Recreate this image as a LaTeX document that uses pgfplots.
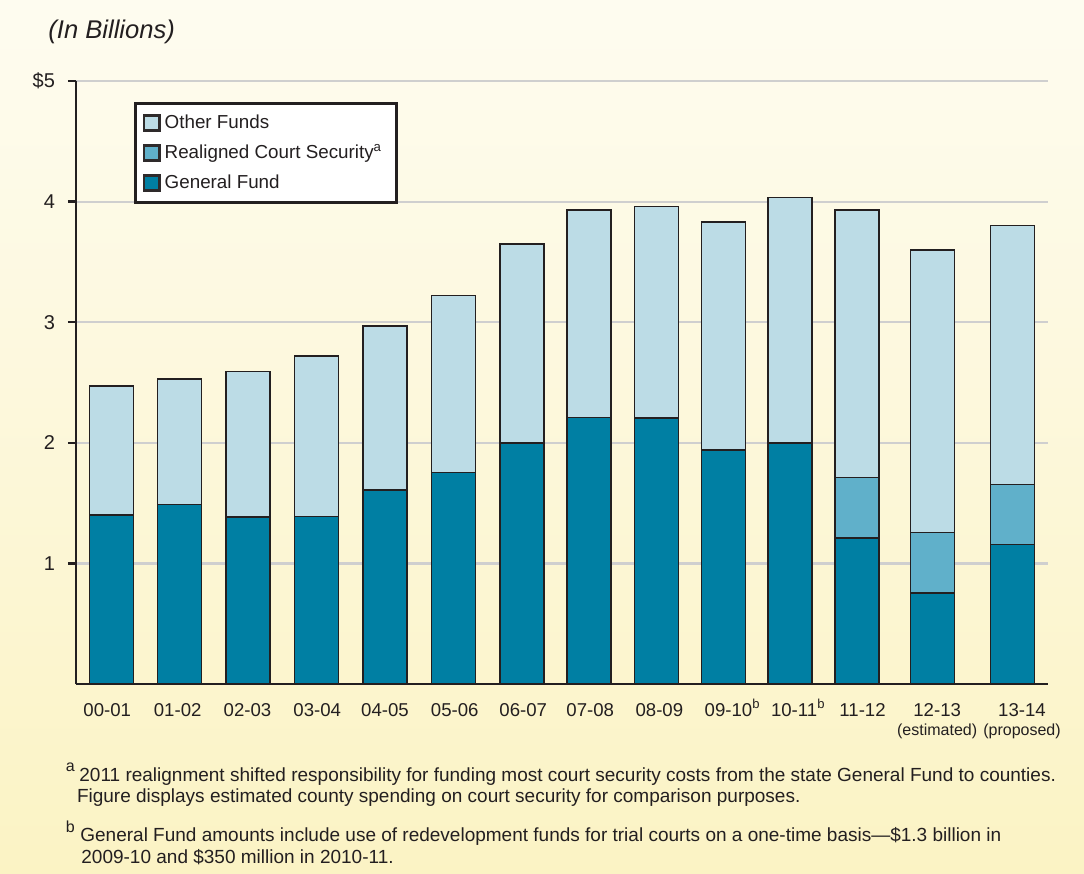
\documentclass[border=0pt]{standalone}
\usepackage{fontspec}
\setmainfont{Liberation Sans}
\usepackage{pgfplots}
\pgfplotsset{compat=1.18}
\definecolor{gf}{HTML}{007FA3}
\definecolor{rcs}{HTML}{60B0CA}
\definecolor{oth}{HTML}{BCDCE6}
\definecolor{bgtop}{HTML}{FEFCF0}
\definecolor{bgbot}{HTML}{FBF3C4}
\definecolor{gridc}{HTML}{CFCFCF}
\definecolor{txt}{HTML}{231F20}
\begin{document}
\begin{tikzpicture}[color=txt]
\shade[top color=bgtop, bottom color=bgbot] (0pt,0pt) rectangle (542pt,-437pt);
\node[anchor=base west, inner sep=0pt, font=\fontsize{12.8pt}{14pt}\itshape] at (24pt,-19pt) {(In Billions)};
\begin{axis}[
  at={(38pt,-342pt)}, anchor=south west,
  scale only axis, width=486pt, height=301.5pt,
  xmin=-0.516, xmax=13.69, ymin=0, ymax=5,
  ybar stacked, bar width=0.643,
  axis x line*=bottom, axis y line*=left,
  axis line style={-, line width=1.3pt, txt},
  ytick={1,2,3,4,5}, yticklabels={1,2,3,4,\$5},
  ymajorgrids, grid style={gridc, line width=1.1pt},
  tick align=outside, major tick length=4pt,
  ytick style={line width=1.2pt, txt},
  xtick style={draw=none},
  yticklabel style={font=\fontsize{10pt}{12pt}\selectfont, xshift=-3pt},
  xtick={-0.06,0.97,1.99,3.01,4.0,5.02,6.02,7.0,8.01,9.02,9.98,10.98,12.07,13.31},
  xticklabels={00-01,01-02,02-03,03-04,04-05,05-06,06-07,07-08,08-09,09-10\smash{\rlap{\textsuperscript{b}}},10-11\smash{\rlap{\textsuperscript{b}}},11-12,{12-13\\[-0.5pt]{\fontsize{8pt}{9pt}\selectfont (estimated)}},{13-14\\[-0.5pt]{\fontsize{8pt}{9pt}\selectfont (proposed)}}},
  xticklabel style={font=\fontsize{9.3pt}{10pt}\selectfont, align=center, anchor=north, yshift=-2pt},
  legend style={at={(0.0597,0.965)}, anchor=north west, draw=txt, line width=1.5pt, fill=white,
    font=\fontsize{9.4pt}{11pt}\selectfont, cells={anchor=west}, row sep=2.4pt, inner xsep=3.5pt, inner ysep=3.6pt},
  legend image code/.code={\draw[#1, draw=txt!95, line width=1.3pt] (0pt,-3.8pt) rectangle (7.8pt,3.8pt);},
  reverse legend,
]
\addplot[fill=gf, draw=txt, line width=0.7pt] coordinates {
(0,1.40) (1,1.49) (2,1.385) (3,1.39) (4,1.61) (5,1.755) (6,2.00) (6.98,2.21) (7.97,2.205) (8.95,1.94) (9.92,2.00) (10.9,1.21) (12.0,0.755) (13.17,1.155)};
\addplot[fill=rcs, draw=txt, line width=0.7pt] coordinates {
(0,0) (1,0) (2,0) (3,0) (4,0) (5,0) (6,0) (6.98,0) (7.97,0) (8.95,0) (9.92,0) (10.9,0.50) (12.0,0.50) (13.17,0.50)};
\addplot[fill=oth, draw=txt, line width=0.7pt] coordinates {
(0,1.07) (1,1.04) (2,1.205) (3,1.33) (4,1.36) (5,1.465) (6,1.65) (6.98,1.72) (7.97,1.755) (8.95,1.89) (9.92,2.035) (10.9,2.22) (12.0,2.345) (13.17,2.145)};
\legend{General Fund, Realigned Court Security\textsuperscript{a}\hspace*{1.5pt}, Other Funds}
\end{axis}
\begin{scope}[every node/.style={anchor=base west, inner sep=0pt, font=\fontsize{9.5pt}{11pt}\selectfont}]
\node[font=\fontsize{8pt}{9pt}\selectfont] at (32.8pt,-385.8pt) {a};
\node at (39.5pt,-390.5pt) {2011 realignment shifted responsibility for funding most court security costs from the state General Fund to counties.};
\node at (38.3pt,-401.3pt) {Figure displays estimated county spending on court security for comparison purposes.};
\node[font=\fontsize{8pt}{9pt}\selectfont] at (32.8pt,-416.2pt) {b};
\node at (40pt,-420.8pt) {General Fund amounts include use of redevelopment funds for trial courts on a one-time basis—\$1.3 billion in};
\node at (40.5pt,-431.6pt) {2009-10 and \$350 million in 2010-11.};
\end{scope}
\end{tikzpicture}
\end{document}
